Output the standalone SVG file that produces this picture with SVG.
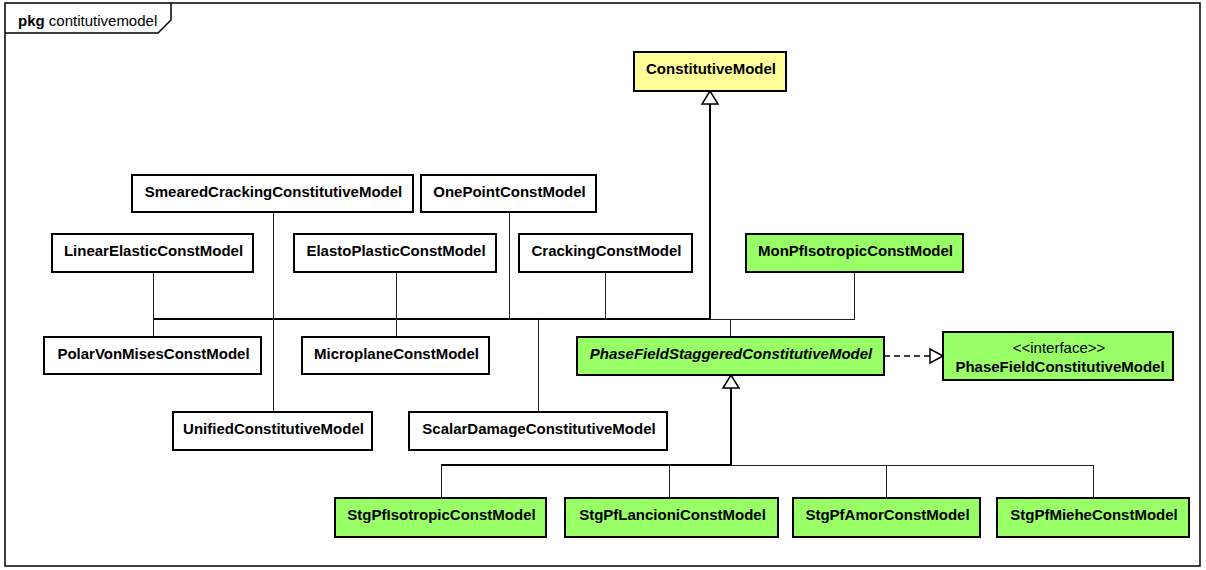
<svg xmlns="http://www.w3.org/2000/svg" width="1206" height="570" viewBox="0 0 1206 570">
  <style>
    .frame { fill: #ffffff; stroke: #000000; stroke-width: 1.5; }
    .box { stroke: #000000; stroke-width: 2; }
    .plain { fill: #ffffff; }
    .base { fill: #ffff99; }
    .pf { fill: #99ff66; }
    .name { font-family: "Liberation Sans", Arial, sans-serif; font-size: 15px; font-weight: bold; fill: #000000; text-anchor: middle; }
    .abstract { font-style: italic; }
    .stereo { font-family: "Liberation Sans", Arial, sans-serif; font-size: 15px; fill: #000000; text-anchor: middle; }
    .tab { font-family: "Liberation Sans", Arial, sans-serif; font-size: 15px; fill: #000000; }
    .wire { fill: none; stroke: #222222; stroke-width: 1; }
    .trunk { fill: none; stroke: #000000; stroke-width: 2; }
    .dash { fill: none; stroke: #000000; stroke-width: 1.3; stroke-dasharray: 6 4; }
    .head { fill: #ffffff; stroke: #000000; stroke-width: 1.5; }
  </style>

  <!-- package frame -->
  <g id="package">
    <rect class="frame" x="5" y="3" width="1195" height="563"/>
    <path d="M5,33 H158 L171,20 V3" fill="none" stroke="#000000" stroke-width="1.5"/>
    <text class="tab" x="18" y="26"><tspan font-weight="bold">pkg</tspan> contitutivemodel</text>
  </g>

  <!-- generalization / realization connectors -->
  <g id="connectors">
    <!-- upper inheritance tree -->
    <path class="trunk" d="M710,104 V319"/>
    <path class="trunk" d="M153,319 H710"/>
    <path class="wire" d="M710,319.5 H854.5"/>
    <path class="wire" d="M153.5,272 V337"/>
    <path class="wire" d="M273.5,212 V412"/>
    <path class="wire" d="M396.5,272 V337"/>
    <path class="wire" d="M509.5,212 V319"/>
    <path class="wire" d="M605.5,272 V319"/>
    <path class="wire" d="M538.5,319 V412"/>
    <path class="wire" d="M854.5,272 V320"/>
    <path class="wire" d="M730.5,319 V337"/>
    <polygon class="head" points="710,91 702,104 718,104"/>

    <!-- lower inheritance tree -->
    <path class="trunk" d="M731,388 V465"/>
    <path class="trunk" d="M441,465 H731"/>
    <path class="wire" d="M731,465.5 H1093.5"/>
    <path class="wire" d="M441.5,465 V498"/>
    <path class="wire" d="M669.5,465 V498"/>
    <path class="wire" d="M886.5,465 V498"/>
    <path class="wire" d="M1093.5,465 V498"/>
    <polygon class="head" points="731,375 723,388 739,388"/>

    <!-- interface realization -->
    <path class="dash" d="M884,356 H930"/>
    <polygon class="head" points="943,356 930,349 930,363"/>
  </g>

  <g id="ConstitutiveModel">
    <rect class="box base" x="634" y="52" width="152" height="39"/>
    <text class="name" x="711" y="74">ConstitutiveModel</text>
  </g>

  <g id="SmearedCrackingConstitutiveModel">
    <rect class="box plain" x="132" y="175" width="281" height="37"/>
    <text class="name" x="273.5" y="197">SmearedCrackingConstitutiveModel</text>
  </g>

  <g id="OnePointConstModel">
    <rect class="box plain" x="421" y="175" width="175" height="37"/>
    <text class="name" x="509.5" y="197">OnePointConstModel</text>
  </g>

  <g id="LinearElasticConstModel">
    <rect class="box plain" x="52" y="234" width="201" height="38"/>
    <text class="name" x="153.5" y="256">LinearElasticConstModel</text>
  </g>

  <g id="ElastoPlasticConstModel">
    <rect class="box plain" x="294" y="234" width="202" height="38"/>
    <text class="name" x="396" y="256">ElastoPlasticConstModel</text>
  </g>

  <g id="CrackingConstModel">
    <rect class="box plain" x="519" y="234" width="173" height="38"/>
    <text class="name" x="606.5" y="256">CrackingConstModel</text>
  </g>

  <g id="MonPfIsotropicConstModel">
    <rect class="box pf" x="746" y="234" width="217" height="38"/>
    <text class="name" x="855.5" y="256">MonPfIsotropicConstModel</text>
  </g>

  <g id="PolarVonMisesConstModel">
    <rect class="box plain" x="44" y="337" width="217" height="37"/>
    <text class="name" x="153.5" y="359">PolarVonMisesConstModel</text>
  </g>

  <g id="MicroplaneConstModel">
    <rect class="box plain" x="302" y="337" width="187" height="37"/>
    <text class="name" x="396.5" y="359">MicroplaneConstModel</text>
  </g>

  <g id="PhaseFieldStaggeredConstitutiveModel">
    <rect class="box pf" x="577" y="337" width="307" height="38"/>
    <text class="name abstract" x="731" y="359">PhaseFieldStaggeredConstitutiveModel</text>
  </g>

  <g id="PhaseFieldConstitutiveModel">
    <rect class="box pf" x="943" y="332" width="230" height="48"/>
    <text class="stereo" x="1059" y="353">&lt;&lt;interface&gt;&gt;</text>
    <text class="name" x="1060" y="372">PhaseFieldConstitutiveModel</text>
  </g>

  <g id="UnifiedConstitutiveModel">
    <rect class="box plain" x="173" y="412" width="199" height="38"/>
    <text class="name" x="273.5" y="434">UnifiedConstitutiveModel</text>
  </g>

  <g id="ScalarDamageConstitutiveModel">
    <rect class="box plain" x="409" y="412" width="258" height="38"/>
    <text class="name" x="539" y="434">ScalarDamageConstitutiveModel</text>
  </g>

  <g id="StgPfIsotropicConstModel">
    <rect class="box pf" x="335" y="498" width="211" height="39"/>
    <text class="name" x="441.5" y="520">StgPfIsotropicConstModel</text>
  </g>

  <g id="StgPfLancioniConstModel">
    <rect class="box pf" x="565" y="498" width="213" height="39"/>
    <text class="name" x="672.5" y="520">StgPfLancioniConstModel</text>
  </g>

  <g id="StgPfAmorConstModel">
    <rect class="box pf" x="793" y="498" width="187" height="39"/>
    <text class="name" x="887.5" y="520">StgPfAmorConstModel</text>
  </g>

  <g id="StgPfMieheConstModel">
    <rect class="box pf" x="997" y="498" width="192" height="39"/>
    <text class="name" x="1094" y="520">StgPfMieheConstModel</text>
  </g>
</svg>
